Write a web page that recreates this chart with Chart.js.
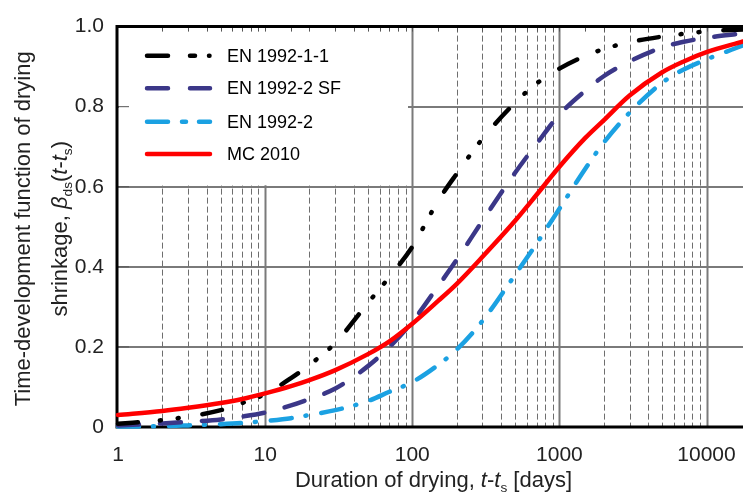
<!DOCTYPE html>
<html>
<head>
<meta charset="utf-8">
<script src="https://cdn.jsdelivr.net/npm/chart.js@4/dist/chart.umd.min.js"></script>
<style>
  html, body { margin: 0; padding: 0; background: #fff; }
  #wrap { width: 743px; height: 495px; }
</style>
</head>
<body>
<div id="wrap"><canvas id="chart" width="743" height="495"></canvas></div>
<script>
/* =====================================================
   DATA
   ===================================================== */
var days = [1, 2, 3, 5, 7, 10, 15, 20, 30, 50, 70, 100, 150, 200, 300, 500, 700,
            1000, 1500, 2000, 3000, 5000, 7000, 10000, 17700];

var en1992_1_1 = [0.008, 0.017, 0.026, 0.042, 0.06, 0.082, 0.122, 0.155, 0.21, 0.31, 0.375, 0.45,
                  0.565, 0.632, 0.72, 0.81, 0.858, 0.895, 0.927, 0.944, 0.961, 0.975, 0.982, 0.988, 0.993];

var en1992_2_sf = [0.004, 0.009, 0.013, 0.019, 0.026, 0.036, 0.054, 0.07, 0.096, 0.152, 0.2, 0.263,
                   0.352, 0.417, 0.515, 0.635, 0.707, 0.78, 0.84, 0.876, 0.913, 0.948, 0.962, 0.972, 0.983];

var en1992_2 = [0.001, 0.002, 0.004, 0.007, 0.01, 0.015, 0.022, 0.03, 0.042, 0.065, 0.088, 0.112,
                0.155, 0.193, 0.265, 0.38, 0.458, 0.545, 0.645, 0.71, 0.785, 0.86, 0.893, 0.918, 0.953];

var mc2010 = [0.03, 0.04, 0.048, 0.06, 0.07, 0.084, 0.102, 0.117, 0.142, 0.182, 0.214, 0.258,
              0.315, 0.357, 0.425, 0.515, 0.58, 0.65, 0.722, 0.766, 0.828, 0.886, 0.913, 0.936, 0.963];

var seriesNames = ['EN 1992-1-1', 'EN 1992-2 SF', 'EN 1992-2', 'MC 2010'];
var xTickLabels = [1, 10, 100, 1000, 10000];
var yTickLabels = ['0', '0.2', '0.4', '0.6', '0.8', '1.0'];

/* =====================================================
   STYLE
   ===================================================== */
var FONT = "'Liberation Sans', Arial, sans-serif";
var styles = [
    { color: '#000000', dash: [20, 22, 1, 17, 1, 24], legendDash: [21, 22, 5, 14, 0.5, 100] },
    { color: '#3b3788', dash: [21, 21], legendDash: [21, 22, 20, 100] },
    { color: '#1ba1e2', dash: [21, 14, 1, 15], legendDash: [21, 14, 4, 13, 30] },
    { color: '#ff0000', dash: [], legendDash: [] }
];

function toPoints(vals) {
    return days.map(function (d, i) { return { x: d, y: vals[i] }; });
}

function isPow10(v) {
    var l = Math.log10(v);
    return Math.abs(l - Math.round(l)) < 1e-9;
}

function drawRich(ctx, runs, cx, baseY, size) {
    var total = 0;
    runs.forEach(function (r) {
        var s = r.sub ? size * 0.62 : size;
        r.font = (r.it ? 'italic ' : '') + s + 'px ' + FONT;
        ctx.font = r.font;
        r.w = ctx.measureText(r.t).width;
        total += r.w;
    });
    var x = cx - total / 2;
    ctx.textAlign = 'left';
    ctx.textBaseline = 'alphabetic';
    runs.forEach(function (r) {
        ctx.font = r.font;
        ctx.fillText(r.t, x, baseY + (r.sub ? size * 0.22 : 0));
        x += r.w;
    });
}

/* =====================================================
   PLUGIN: grid, legend box, borders, titles
   ===================================================== */
var decor = {
    id: 'decor',
    beforeDatasetsDraw: function (chart) {
        var ctx = chart.ctx, a = chart.chartArea;
        var xs = chart.scales.x, ys = chart.scales.y;
        ctx.save();
        // vertical grid lines
        xs.ticks.forEach(function (t) {
            var v = t.value;
            var sig = v / Math.pow(10, Math.floor(Math.log10(v) + 1e-9));
            if (Math.abs(sig - Math.round(sig)) > 1e-6 || v <= 1) return;
            var px = Math.round(xs.getPixelForValue(v)) + 0.5;
            ctx.beginPath();
            if (isPow10(v)) {
                ctx.setLineDash([]);
                ctx.strokeStyle = '#7a7a7a';
                ctx.lineWidth = 2;
            } else {
                ctx.setLineDash([6, 3]);
                ctx.strokeStyle = '#6e6e6e';
                ctx.lineWidth = 1;
            }
            ctx.moveTo(px, a.top);
            ctx.lineTo(px, a.bottom);
            ctx.stroke();
        });
        ctx.setLineDash([]);
        // legend background
        ctx.fillStyle = '#ffffff';
        ctx.fillRect(a.left + 1, a.top + 1, 407 - a.left, ys.getPixelForValue(0.6) - a.top - 2.5);
        // inward ticks
        ctx.strokeStyle = '#555';
        ctx.lineWidth = 1;
        xs.ticks.forEach(function (t) {
            var px = Math.round(xs.getPixelForValue(t.value)) + 0.5;
            if (t.value <= 1 || t.value >= xs.max) return;
            ctx.beginPath();
            ctx.moveTo(px, a.top);
            ctx.lineTo(px, a.top + 5);
            ctx.stroke();
        });
        ys.ticks.forEach(function (t) {
            var py = ys.getPixelForValue(t.value);
            ctx.beginPath();
            ctx.moveTo(a.left, py);
            ctx.lineTo(a.left + 11, py);
            ctx.stroke();
        });
        // axis frame
        ctx.strokeStyle = '#000';
        ctx.lineWidth = 3;
        ctx.beginPath();
        ctx.moveTo(a.right + 2, a.top);
        ctx.lineTo(a.left - 1, a.top);
        ctx.lineTo(a.left - 1, a.bottom);
        ctx.lineTo(a.right + 2, a.bottom);
        ctx.stroke();
        ctx.restore();
    },
    afterDraw: function (chart) {
        var ctx = chart.ctx, a = chart.chartArea;
        ctx.save();
        // legend
        var rows = [55.7, 88.3, 121.7, 154];
        seriesNames.forEach(function (name, i) {
            ctx.beginPath();
            ctx.setLineDash(styles[i].legendDash);
            ctx.lineCap = 'round';
            ctx.lineWidth = 4.5;
            ctx.strokeStyle = styles[i].color;
            ctx.moveTo(147, rows[i]);
            ctx.lineTo(210, rows[i]);
            ctx.stroke();
            ctx.setLineDash([]);
            ctx.fillStyle = '#000';
            ctx.font = '18px ' + FONT;
            ctx.textAlign = 'left';
            ctx.textBaseline = 'middle';
            ctx.fillText(name, 227, rows[i] + 1);
        });
        // x title
        ctx.fillStyle = '#222';
        drawRich(ctx, [
            { t: 'Duration of drying, ' },
            { t: 't', it: true }, { t: '-' }, { t: 't', it: true }, { t: 's', sub: true },
            { t: ' [days]' }
        ], (a.left + a.right) / 2 + 3, 487, 22);
        // y title
        var cy = (a.top + a.bottom) / 2 + 2;
        ctx.save();
        ctx.translate(30, cy);
        ctx.rotate(-Math.PI / 2);
        drawRich(ctx, [{ t: 'Time-development function of drying' }], 0, 0, 22);
        ctx.restore();
        ctx.save();
        ctx.translate(67, cy);
        ctx.rotate(-Math.PI / 2);
        drawRich(ctx, [
            { t: 'shrinkage, ' },
            { t: '\u03B2', it: true }, { t: 'ds', sub: true },
            { t: '(' }, { t: 't', it: true }, { t: '-' }, { t: 't', it: true }, { t: 's', sub: true }, { t: ')' }
        ], 0, 0, 22);
        ctx.restore();
        ctx.restore();
    }
};

/* =====================================================
   CHART
   ===================================================== */
var allSeries = [en1992_1_1, en1992_2_sf, en1992_2, mc2010];
var datasets = allSeries.map(function (vals, i) {
    return {
        label: seriesNames[i],
        data: toPoints(vals),
        borderColor: styles[i].color,
        backgroundColor: styles[i].color,
        borderDash: styles[i].dash,
        borderWidth: 4.5,
        borderCapStyle: 'round',
        pointRadius: 0,
        fill: false,
        cubicInterpolationMode: 'monotone',
        clip: false,
        order: i === 3 ? 0 : i + 1
    };
});

new Chart(document.getElementById('chart').getContext('2d'), {
    type: 'line',
    data: { datasets: datasets },
    options: {
        responsive: false,
        animation: false,
        layout: { padding: { top: 24, right: 0, left: 0, bottom: 0 } },
        plugins: { legend: { display: false }, tooltip: { enabled: false } },
        scales: {
            x: {
                type: 'logarithmic',
                min: 1,
                max: 17700,
                afterFit: function (s) {
                    s.height = 68;
                    s.paddingRight = 0;
                    s.paddingLeft = 0;
                },
                grid: { display: false },
                border: { display: false },
                ticks: {
                    autoSkip: false,
                    maxRotation: 0,
                    padding: 8,
                    color: '#222',
                    font: { family: FONT, size: 21 },
                    callback: function (v) {
                        for (var i = 0; i < xTickLabels.length; i++) {
                            if (Math.abs(v - xTickLabels[i]) < 1e-6) return String(xTickLabels[i]);
                        }
                        return '';
                    }
                }
            },
            y: {
                min: 0,
                max: 1,
                afterFit: function (s) { s.width = 118; },
                grid: { color: '#7a7a7a', lineWidth: 2, drawTicks: false },
                border: { display: false },
                ticks: {
                    stepSize: 0.2,
                    padding: 14,
                    color: '#222',
                    font: { family: FONT, size: 21 },
                    callback: function (v) { return yTickLabels[Math.round(v / 0.2)]; }
                }
            }
        }
    },
    plugins: [decor]
});
</script>
</body>
</html>
